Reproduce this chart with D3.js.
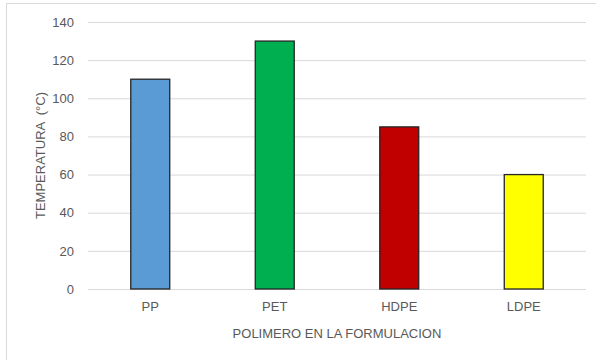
<!DOCTYPE html>
<html>
<head>
<meta charset="utf-8">
<script src="https://cdn.jsdelivr.net/npm/d3@7"></script>
<style>
  body { margin: 0; background: #fff; }
  svg text { font-family: "Liberation Sans", Arial, sans-serif; fill: #595959; }
</style>
</head>
<body>
<div id="chart"></div>
<script>
  // Chart data
  const polymers = ['PP', 'PET', 'HDPE', 'LDPE'];
  const temperatures = [110, 130, 85, 60];
  const barColors = ['#5B9BD5', '#00B050', '#C00000', '#FFFF00'];
  const yTicks = [0, 20, 40, 60, 80, 100, 120, 140];

  const w = 596;
  const h = 360;
  const margin = { top: 22, right: 10, bottom: 71, left: 88 };

  const svg = d3.select('#chart')
    .append('svg')
    .attr('width', w)
    .attr('height', h);

  // chart frame
  svg.append('rect')
    .attr('x', 6.5)
    .attr('y', 3.5)
    .attr('width', w)
    .attr('height', h)
    .attr('fill', 'none')
    .attr('stroke', '#d9d9d9');

  const xScale = d3.scaleBand()
    .domain(polymers)
    .range([margin.left, w - margin.right])
    .paddingInner(0.687)
    .paddingOuter(0.687 / 2);

  const yScale = d3.scaleLinear()
    .domain([0, 140])
    .range([h - margin.bottom, margin.top]);

  // y axis with gridlines
  const yAxis = d3.axisLeft(yScale)
    .tickValues(yTicks)
    .tickSize(0 - (w - margin.left - margin.right))
    .tickPadding(14);

  svg.append('g')
    .classed('y-axis', true)
    .attr('transform', `translate(${margin.left}, 0)`)
    .call(yAxis);

  svg.select('.y-axis .domain').remove();

  svg.selectAll('.y-axis .tick line')
    .attr('stroke', '#d9d9d9')
    .attr('stroke-width', 1);

  svg.selectAll('.y-axis .tick text')
    .attr('font-size', 13)
    .attr('fill', '#595959');

  // x axis
  const xAxis = d3.axisBottom(xScale)
    .tickSize(0)
    .tickPadding(13);

  svg.append('g')
    .classed('x-axis', true)
    .attr('transform', `translate(0, ${h - margin.bottom})`)
    .call(xAxis);

  svg.select('.x-axis .domain').remove();

  svg.selectAll('.x-axis .tick text')
    .attr('font-size', 13)
    .attr('fill', '#595959');

  // bars
  svg.selectAll('.bar')
    .data(polymers)
    .enter()
    .append('rect')
    .attr('class', 'bar')
    .attr('x', d => xScale(d))
    .attr('y', (d, i) => yScale(temperatures[i]))
    .attr('width', xScale.bandwidth())
    .attr('height', (d, i) => yScale(0) - yScale(temperatures[i]))
    .attr('fill', (d, i) => barColors[i])
    .attr('stroke', '#262626')
    .attr('stroke-width', 1.3);

  // axis titles
  svg.append('text')
    .attr('x', (margin.left + w - margin.right) / 2)
    .attr('y', 338)
    .attr('text-anchor', 'middle')
    .attr('font-size', 13)
    .text('POLIMERO EN LA FORMULACION');

  svg.append('text')
    .attr('transform', `translate(45, ${(yScale(0) + yScale(140)) / 2}) rotate(-90)`)
    .attr('text-anchor', 'middle')
    .attr('font-size', 13)
    .attr('xml:space', 'preserve')
    .style('white-space', 'pre')
    .text('TEMPERATURA  (°C)');
</script>
</body>
</html>
